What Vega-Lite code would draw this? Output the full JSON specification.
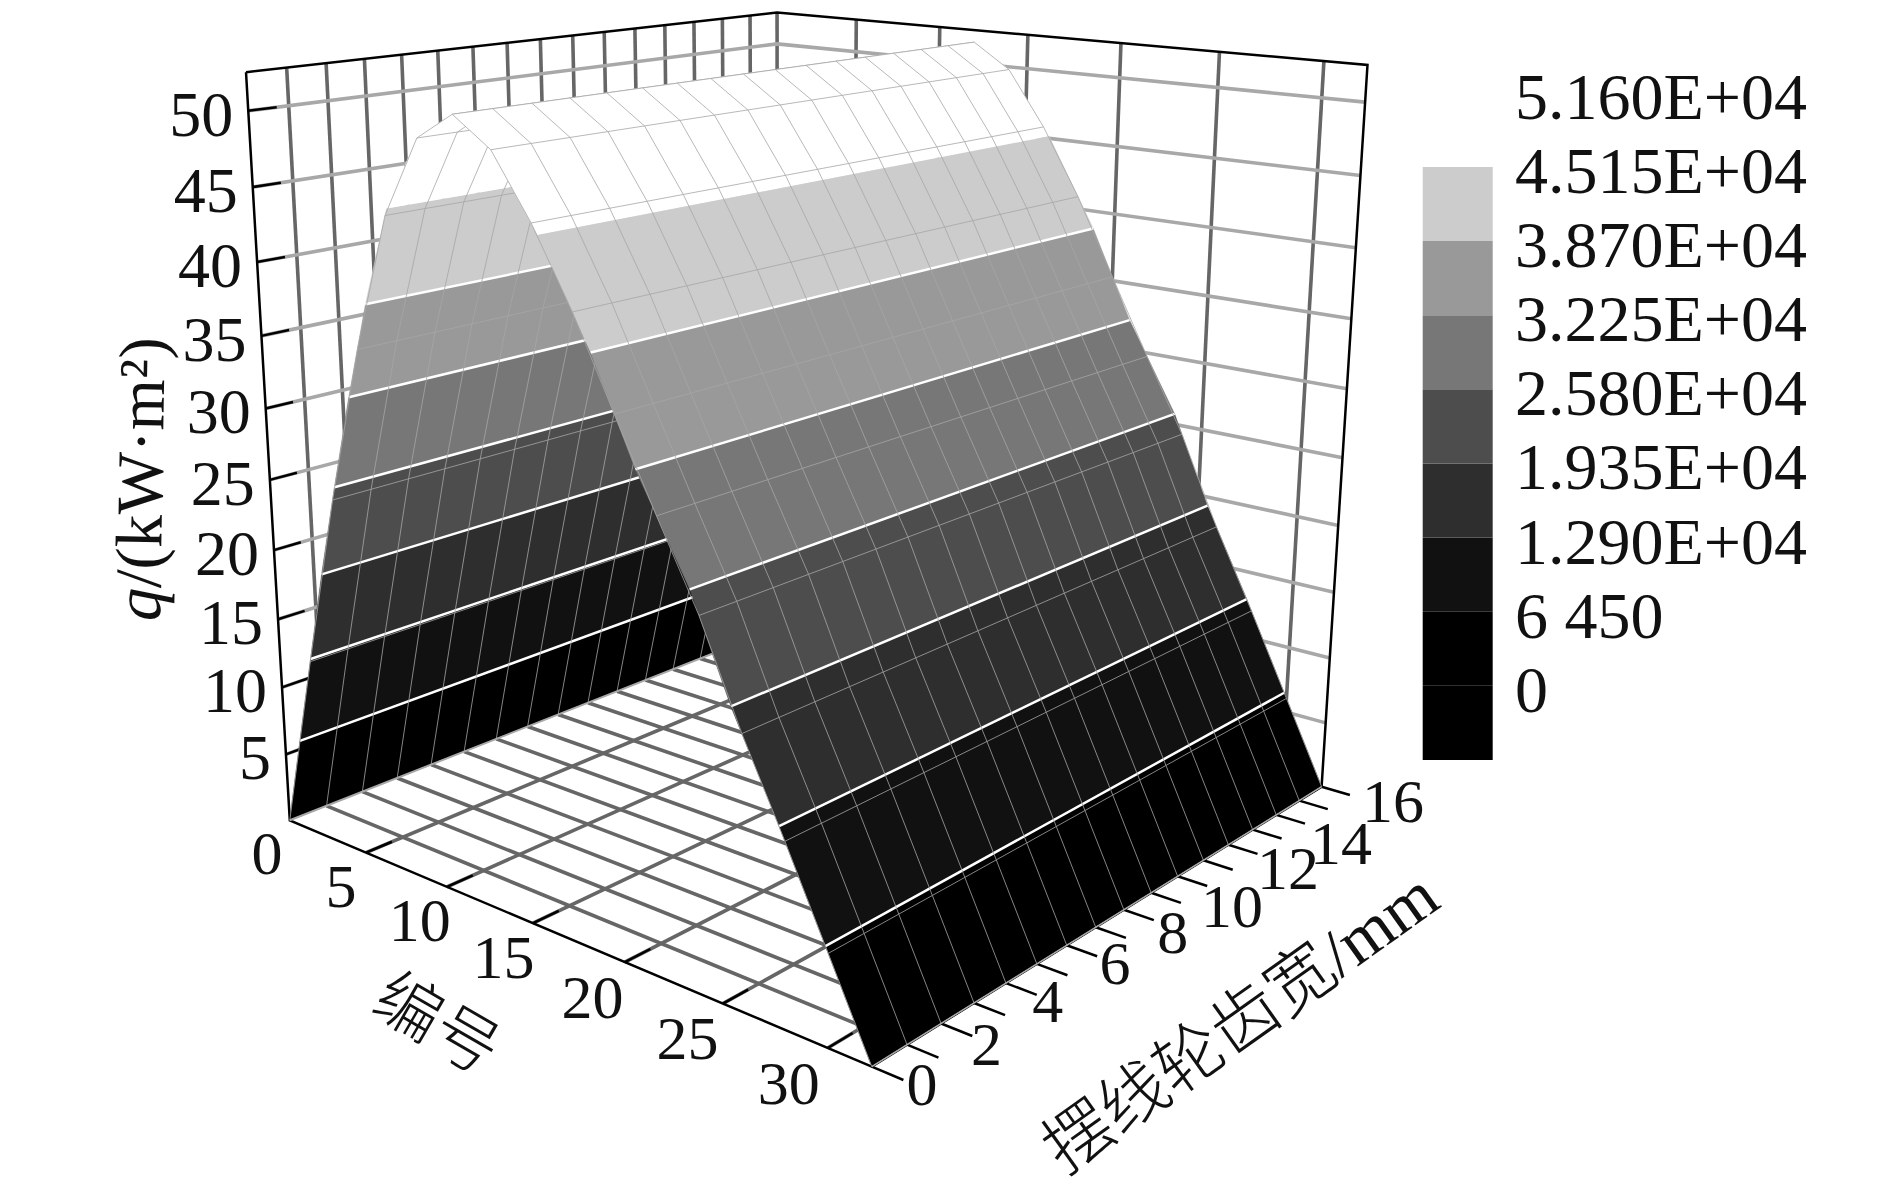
{"$schema":"https://vega.github.io/schema/vega-lite/v6.json","width":1890,"height":1198,"padding":0,"autosize":{"type":"none"},"background":"white","config":{"view":{"stroke":null}},
"datasets":{
"profile":[{"x":0,"z":0},{"x":2,"z":12.7},{"x":4,"z":24.87},{"x":6,"z":35.6},{"x":8,"z":44.68},{"x":10,"z":49.85},{"x":12,"z":51.6},{"x":14,"z":49.8},{"x":16,"z":45.8},{"x":18,"z":40.92},{"x":20,"z":35.29},{"x":22,"z":29.74},{"x":24,"z":24.36},{"x":26,"z":17.88},{"x":28,"z":12.09},{"x":30,"z":6.06},{"x":32,"z":0}],
"legend":[{"lo":-6450,"hi":0,"level":0},{"lo":0,"hi":6450,"level":0},{"lo":6450,"hi":12900,"level":1},{"lo":12900,"hi":19350,"level":2},{"lo":19350,"hi":25800,"level":3},{"lo":25800,"hi":32250,"level":4},{"lo":32250,"hi":38700,"level":5},{"lo":38700,"hi":45150,"level":6}],
"legendText":[{"q":51600,"t":"5.160E+04"},{"q":45150,"t":"4.515E+04"},{"q":38700,"t":"3.870E+04"},{"q":32250,"t":"3.225E+04"},{"q":25800,"t":"2.580E+04"},{"q":19350,"t":"1.935E+04"},{"q":12900,"t":"1.290E+04"},{"q":6450,"t":"6 450"},{"q":0,"t":"0"}]
},
"data":{"values":[
{"k":"g","id":"a1","xs":[0,32],"ys":[1,1],"zs":[0,0]},{"k":"g","id":"a2","xs":[0,32],"ys":[2,2],"zs":[0,0]},{"k":"g","id":"a3","xs":[0,32],"ys":[3,3],"zs":[0,0]},{"k":"g","id":"a4","xs":[0,32],"ys":[4,4],"zs":[0,0]},{"k":"g","id":"a5","xs":[0,32],"ys":[5,5],"zs":[0,0]},{"k":"g","id":"a6","xs":[0,32],"ys":[6,6],"zs":[0,0]},{"k":"g","id":"a7","xs":[0,32],"ys":[7,7],"zs":[0,0]},{"k":"g","id":"a8","xs":[0,32],"ys":[8,8],"zs":[0,0]},{"k":"g","id":"a9","xs":[0,32],"ys":[9,9],"zs":[0,0]},{"k":"g","id":"a10","xs":[0,32],"ys":[10,10],"zs":[0,0]},{"k":"g","id":"a11","xs":[0,32],"ys":[11,11],"zs":[0,0]},{"k":"g","id":"a12","xs":[0,32],"ys":[12,12],"zs":[0,0]},{"k":"g","id":"a13","xs":[0,32],"ys":[13,13],"zs":[0,0]},{"k":"g","id":"a14","xs":[0,32],"ys":[14,14],"zs":[0,0]},{"k":"g","id":"a15","xs":[0,32],"ys":[15,15],"zs":[0,0]},
{"k":"g","id":"b5","xs":[5,5],"ys":[0,16],"zs":[0,0]},{"k":"g","id":"b10","xs":[10,10],"ys":[0,16],"zs":[0,0]},{"k":"g","id":"b15","xs":[15,15],"ys":[0,16],"zs":[0,0]},{"k":"g","id":"b20","xs":[20,20],"ys":[0,16],"zs":[0,0]},{"k":"g","id":"b25","xs":[25,25],"ys":[0,16],"zs":[0,0]},{"k":"g","id":"b30","xs":[30,30],"ys":[0,16],"zs":[0,0]},
{"k":"g","id":"c1","xs":[0,0],"ys":[1,1],"zs":[0,52.5]},{"k":"g","id":"c2","xs":[0,0],"ys":[2,2],"zs":[0,52.5]},{"k":"g","id":"c3","xs":[0,0],"ys":[3,3],"zs":[0,52.5]},{"k":"g","id":"c4","xs":[0,0],"ys":[4,4],"zs":[0,52.5]},{"k":"g","id":"c5","xs":[0,0],"ys":[5,5],"zs":[0,52.5]},{"k":"g","id":"c6","xs":[0,0],"ys":[6,6],"zs":[0,52.5]},{"k":"g","id":"c7","xs":[0,0],"ys":[7,7],"zs":[0,52.5]},{"k":"g","id":"c8","xs":[0,0],"ys":[8,8],"zs":[0,52.5]},{"k":"g","id":"c9","xs":[0,0],"ys":[9,9],"zs":[0,52.5]},{"k":"g","id":"c10","xs":[0,0],"ys":[10,10],"zs":[0,52.5]},{"k":"g","id":"c11","xs":[0,0],"ys":[11,11],"zs":[0,52.5]},{"k":"g","id":"c12","xs":[0,0],"ys":[12,12],"zs":[0,52.5]},{"k":"g","id":"c13","xs":[0,0],"ys":[13,13],"zs":[0,52.5]},{"k":"g","id":"c14","xs":[0,0],"ys":[14,14],"zs":[0,52.5]},{"k":"g","id":"c15","xs":[0,0],"ys":[15,15],"zs":[0,52.5]},{"k":"g","id":"c16","xs":[0,0],"ys":[16,16],"zs":[0,52.5]},
{"k":"g","id":"d5","xs":[5,5],"ys":[16,16],"zs":[0,52.5]},{"k":"g","id":"d10","xs":[10,10],"ys":[16,16],"zs":[0,52.5]},{"k":"g","id":"d15","xs":[15,15],"ys":[16,16],"zs":[0,52.5]},{"k":"g","id":"d20","xs":[20,20],"ys":[16,16],"zs":[0,52.5]},{"k":"g","id":"d25","xs":[25,25],"ys":[16,16],"zs":[0,52.5]},{"k":"g","id":"d30","xs":[30,30],"ys":[16,16],"zs":[0,52.5]},
{"k":"z","id":"z5","xs":[0,0,32],"ys":[0,16,16],"zs":[5,5,5]},{"k":"z","id":"z10","xs":[0,0,32],"ys":[0,16,16],"zs":[10,10,10]},{"k":"z","id":"z15","xs":[0,0,32],"ys":[0,16,16],"zs":[15,15,15]},{"k":"z","id":"z20","xs":[0,0,32],"ys":[0,16,16],"zs":[20,20,20]},{"k":"z","id":"z25","xs":[0,0,32],"ys":[0,16,16],"zs":[25,25,25]},{"k":"z","id":"z30","xs":[0,0,32],"ys":[0,16,16],"zs":[30,30,30]},{"k":"z","id":"z35","xs":[0,0,32],"ys":[0,16,16],"zs":[35,35,35]},{"k":"z","id":"z40","xs":[0,0,32],"ys":[0,16,16],"zs":[40,40,40]},{"k":"z","id":"z45","xs":[0,0,32],"ys":[0,16,16],"zs":[45,45,45]},{"k":"z","id":"z50","xs":[0,0,32],"ys":[0,16,16],"zs":[50,50,50]},
{"k":"b","id":"f1","xs":[0,0,32,32,32,0,0],"ys":[0,16,16,16,0,0,0],"zs":[52.5,52.5,52.5,0,0,0,52.5]},
{"k":"b","id":"t5","xs":[0,0],"ys":[0,0.7],"zs":[5,5]},{"k":"b","id":"t10","xs":[0,0],"ys":[0,0.7],"zs":[10,10]},{"k":"b","id":"t15","xs":[0,0],"ys":[0,0.7],"zs":[15,15]},{"k":"b","id":"t20","xs":[0,0],"ys":[0,0.7],"zs":[20,20]},{"k":"b","id":"t25","xs":[0,0],"ys":[0,0.7],"zs":[25,25]},{"k":"b","id":"t30","xs":[0,0],"ys":[0,0.7],"zs":[30,30]},{"k":"b","id":"t35","xs":[0,0],"ys":[0,0.7],"zs":[35,35]},{"k":"b","id":"t40","xs":[0,0],"ys":[0,0.7],"zs":[40,40]},{"k":"b","id":"t45","xs":[0,0],"ys":[0,0.7],"zs":[45,45]},{"k":"b","id":"t50","xs":[0,0],"ys":[0,0.7],"zs":[50,50]},
{"k":"b","id":"u5","xs":[5,5],"ys":[0,0.7],"zs":[0,0]},{"k":"b","id":"u10","xs":[10,10],"ys":[0,0.7],"zs":[0,0]},{"k":"b","id":"u15","xs":[15,15],"ys":[0,0.7],"zs":[0,0]},{"k":"b","id":"u20","xs":[20,20],"ys":[0,0.7],"zs":[0,0]},{"k":"b","id":"u25","xs":[25,25],"ys":[0,0.7],"zs":[0,0]},{"k":"b","id":"u30","xs":[30,30],"ys":[0,0.7],"zs":[0,0]},
{"k":"b","id":"v0","xs":[32,33.4],"ys":[0,0],"zs":[0,0]},{"k":"b","id":"v1","xs":[32,33.4],"ys":[1,1],"zs":[0,0]},{"k":"b","id":"v2","xs":[32,33.4],"ys":[2,2],"zs":[0,0]},{"k":"b","id":"v3","xs":[32,33.4],"ys":[3,3],"zs":[0,0]},{"k":"b","id":"v4","xs":[32,33.4],"ys":[4,4],"zs":[0,0]},{"k":"b","id":"v5","xs":[32,33.4],"ys":[5,5],"zs":[0,0]},{"k":"b","id":"v6","xs":[32,33.4],"ys":[6,6],"zs":[0,0]},{"k":"b","id":"v7","xs":[32,33.4],"ys":[7,7],"zs":[0,0]},{"k":"b","id":"v8","xs":[32,33.4],"ys":[8,8],"zs":[0,0]},{"k":"b","id":"v9","xs":[32,33.4],"ys":[9,9],"zs":[0,0]},{"k":"b","id":"v10","xs":[32,33.4],"ys":[10,10],"zs":[0,0]},{"k":"b","id":"v11","xs":[32,33.4],"ys":[11,11],"zs":[0,0]},{"k":"b","id":"v12","xs":[32,33.4],"ys":[12,12],"zs":[0,0]},{"k":"b","id":"v13","xs":[32,33.4],"ys":[13,13],"zs":[0,0]},{"k":"b","id":"v14","xs":[32,33.4],"ys":[14,14],"zs":[0,0]},{"k":"b","id":"v15","xs":[32,33.4],"ys":[15,15],"zs":[0,0]},{"k":"b","id":"v16","xs":[32,33.4],"ys":[16,16],"zs":[0,0]},
{"k":"sL","id":"L0","level":0,"xs":[0,1.01,1.01,0],"ys":[0,0,16,16],"zs":[0,6.45,6.45,0]},
{"k":"sL","id":"L1","level":1,"xs":[1.01,2.03,2.03,1.01],"ys":[0,0,16,16],"zs":[6.45,12.9,12.9,6.45]},
{"k":"sL","id":"L2","level":2,"xs":[2.03,3.05,3.05,2.03],"ys":[0,0,16,16],"zs":[12.9,19.35,19.35,12.9]},
{"k":"sL","id":"L3","level":3,"xs":[3.05,4.16,4.16,3.05],"ys":[0,0,16,16],"zs":[19.35,25.8,25.8,19.35]},
{"k":"sL","id":"L4","level":4,"xs":[4.16,5.33,5.33,4.16],"ys":[0,0,16,16],"zs":[25.8,32.25,32.25,25.8]},
{"k":"sL","id":"L5","level":5,"xs":[5.33,6.61,6.61,5.33],"ys":[0,0,16,16],"zs":[32.25,38.7,38.7,32.25]},
{"k":"sL","id":"L6","level":6,"xs":[6.61,8.11,8.11,6.61],"ys":[0,0,16,16],"zs":[38.7,45.15,45.15,38.7]},
{"k":"sL","id":"L7","level":7,"xs":[8.11,10,12,12,10,8.11],"ys":[0,0,0,16,16,16],"zs":[45.15,49.85,51.6,51.6,49.85,45.15]},
{"k":"wL","id":"wL1","xs":[1.01,1.01],"ys":[0,16],"zs":[6.45,6.45]},{"k":"wL","id":"wL2","xs":[2.03,2.03],"ys":[0,16],"zs":[12.9,12.9]},{"k":"wL","id":"wL3","xs":[3.05,3.05],"ys":[0,16],"zs":[19.35,19.35]},{"k":"wL","id":"wL4","xs":[4.16,4.16],"ys":[0,16],"zs":[25.8,25.8]},{"k":"wL","id":"wL5","xs":[5.33,5.33],"ys":[0,16],"zs":[32.25,32.25]},{"k":"wL","id":"wL6","xs":[6.61,6.61],"ys":[0,16],"zs":[38.7,38.7]},
{"k":"e0","id":"e2","xs":[0,0],"ys":[0,16],"zs":[0,0]},
{"k":"sR","id":"R7","level":7,"xs":[12,14,16.32,16.32,14,12],"ys":[0,0,0,16,16,16],"zs":[51.6,49.8,45.15,45.15,49.8,51.6]},
{"k":"sR","id":"R6","level":6,"xs":[16.32,18.88,18.88,16.32],"ys":[0,0,16,16],"zs":[45.15,38.7,38.7,45.15]},
{"k":"sR","id":"R5","level":5,"xs":[18.88,21,21,18.88],"ys":[0,0,16,16],"zs":[38.7,32.25,32.25,38.7]},
{"k":"sR","id":"R4","level":4,"xs":[21,23.57,23.57,21],"ys":[0,0,16,16],"zs":[32.25,25.8,25.8,32.25]},
{"k":"sR","id":"R3","level":3,"xs":[23.57,25.49,25.49,23.57],"ys":[0,0,16,16],"zs":[25.8,19.35,19.35,25.8]},
{"k":"sR","id":"R2","level":2,"xs":[25.49,27.73,27.73,25.49],"ys":[0,0,16,16],"zs":[19.35,12.9,12.9,19.35]},
{"k":"sR","id":"R1","level":1,"xs":[27.73,29.87,29.87,27.73],"ys":[0,0,16,16],"zs":[12.9,6.45,6.45,12.9]},
{"k":"sR","id":"R0","level":0,"xs":[29.87,32,32,29.87],"ys":[0,0,16,16],"zs":[6.45,0,0,6.45]},
{"k":"wR","id":"wR1","xs":[29.87,29.87],"ys":[0,16],"zs":[6.45,6.45]},{"k":"wR","id":"wR2","xs":[27.73,27.73],"ys":[0,16],"zs":[12.9,12.9]},{"k":"wR","id":"wR3","xs":[25.49,25.49],"ys":[0,16],"zs":[19.35,19.35]},{"k":"wR","id":"wR4","xs":[23.57,23.57],"ys":[0,16],"zs":[25.8,25.8]},{"k":"wR","id":"wR5","xs":[21,21],"ys":[0,16],"zs":[32.25,32.25]},{"k":"wR","id":"wR6","xs":[18.88,18.88],"ys":[0,16],"zs":[38.7,38.7]},
{"k":"e","id":"e1","xs":[32,32],"ys":[0,16],"zs":[0,0]},
{"k":"tz","id":"l5","t":"5","xs":[0],"ys":[0],"zs":[5]},{"k":"tz","id":"l10","t":"10","xs":[0],"ys":[0],"zs":[10]},{"k":"tz","id":"l15","t":"15","xs":[0],"ys":[0],"zs":[15]},{"k":"tz","id":"l20","t":"20","xs":[0],"ys":[0],"zs":[20]},{"k":"tz","id":"l25","t":"25","xs":[0],"ys":[0],"zs":[25]},{"k":"tz","id":"l30","t":"30","xs":[0],"ys":[0],"zs":[30]},{"k":"tz","id":"l35","t":"35","xs":[0],"ys":[0],"zs":[35]},{"k":"tz","id":"l40","t":"40","xs":[0],"ys":[0],"zs":[40]},{"k":"tz","id":"l45","t":"45","xs":[0],"ys":[0],"zs":[45]},{"k":"tz","id":"l50","t":"50","xs":[0],"ys":[0],"zs":[50]},
{"k":"tx","id":"m0","t":"0","xs":[2.06],"ys":[-1.41],"zs":[0]},{"k":"tx","id":"m5","t":"5","xs":[6.81],"ys":[-1.41],"zs":[0]},{"k":"tx","id":"m10","t":"10","xs":[11.57],"ys":[-1.41],"zs":[0]},{"k":"tx","id":"m15","t":"15","xs":[16.33],"ys":[-1.41],"zs":[0]},{"k":"tx","id":"m20","t":"20","xs":[21.09],"ys":[-1.41],"zs":[0]},{"k":"tx","id":"m25","t":"25","xs":[25.85],"ys":[-1.41],"zs":[0]},{"k":"tx","id":"m30","t":"30","xs":[30.6],"ys":[-1.41],"zs":[0]},
{"k":"tx","id":"n0","t":"0","xs":[34.12],"ys":[0.06],"zs":[0]},{"k":"tx","id":"n2","t":"2","xs":[34.2],"ys":[1.88],"zs":[0]},{"k":"tx","id":"n4","t":"4","xs":[34.06],"ys":[3.88],"zs":[0]},{"k":"tx","id":"n6","t":"6","xs":[34.31],"ys":[5.92],"zs":[0]},{"k":"tx","id":"n8","t":"8","xs":[34.61],"ys":[7.73],"zs":[0]},{"k":"tx","id":"n10","t":"10","xs":[35.2],"ys":[9.46],"zs":[0]},{"k":"tx","id":"n12","t":"12","xs":[35.15],"ys":[11.73],"zs":[0]},{"k":"tx","id":"n14","t":"14","xs":[35.61],"ys":[13.55],"zs":[0]},{"k":"tx","id":"n16","t":"16","xs":[35.26],"ys":[16.22],"zs":[0]},
{"k":"q1","id":"q1","t":"q","xs":[0],"ys":[0],"zs":[15]},{"k":"q2","id":"q2","t":"/(kW·m²)","xs":[0],"ys":[0],"zs":[15]},
{"k":"t1","id":"t1","t":"编号","xs":[18.25],"ys":[-3.96],"zs":[0]},{"k":"t2","id":"t2","t":"摆线轮齿宽/mm","xs":[40.34],"ys":[5.49],"zs":[0]}
]},
"transform":[{"flatten":["xs","ys","zs"],"as":["x","y","z"]},{"window":[{"op":"row_number","as":"ord"}],"groupby":["id"]},
{"calculate":"1-0.0058188*datum.x+0.0139738*datum.y-0.0015524*datum.z","as":"d"},
{"calculate":"(13.1147*datum.x+41.3456*datum.y+289.8-1.2162*datum.z)/datum.d","as":"px"},
{"calculate":"(1.4906*datum.x-3.2438*datum.y+820.3-14.3619*datum.z)/datum.d","as":"py"}],
"encoding":{"x":{"field":"px","type":"quantitative","scale":{"domain":[0,1890],"range":[0,1890],"nice":false,"zero":false},"axis":null},"y":{"field":"py","type":"quantitative","scale":{"domain":[0,1198],"range":[0,1198],"nice":false,"zero":false},"axis":null}},
"layer":[
{"transform":[{"filter":"datum.k=='g'"}],"mark":{"type":"line","stroke":"#666666","strokeWidth":3.6},"encoding":{"detail":{"field":"id"},"order":{"field":"ord"}}},
{"transform":[{"filter":"datum.k=='z'"}],"mark":{"type":"line","stroke":"#a8a8a8","strokeWidth":3.6},"encoding":{"detail":{"field":"id"},"order":{"field":"ord"}}},
{"transform":[{"filter":"datum.k=='b'"}],"mark":{"type":"line","stroke":"#000000","strokeWidth":2.5},"encoding":{"detail":{"field":"id"},"order":{"field":"ord"}}},
{"transform":[{"filter":"datum.k=='sL'"}],"mark":{"type":"line","strokeWidth":0.5},"encoding":{"detail":{"field":"id"},"order":{"field":"ord"},"fill":{"field":"level","type":"ordinal","scale":{"domain":[0,1,2,3,4,5,6,7],"range":["#000000","#111111","#2e2e2e","#4d4d4d","#777777","#999999","#cccccc","#ffffff"]},"legend":null},"stroke":{"field":"level","type":"ordinal","scale":{"domain":[0,1,2,3,4,5,6,7],"range":["#000000","#111111","#2e2e2e","#4d4d4d","#777777","#999999","#cccccc","#ffffff"]},"legend":null}}},
{"transform":[{"filter":"datum.k=='wL'"}],"mark":{"type":"line","stroke":"#ffffff","strokeWidth":2.5},"encoding":{"detail":{"field":"id"},"order":{"field":"ord"}}},
{"data":{"name":"profile"},"transform":[{"filter":"datum.x<=12"},{"calculate":"[0,1,2,3,4,5,6,7,8,9,10,11,12,13,14,15,16]","as":"ys"},{"flatten":["ys"],"as":["y"]},{"calculate":"1-0.0058188*datum.x+0.0139738*datum.y-0.0015524*datum.z","as":"d"},{"calculate":"(13.1147*datum.x+41.3456*datum.y+289.8-1.2162*datum.z)/datum.d","as":"px"},{"calculate":"(1.4906*datum.x-3.2438*datum.y+820.3-14.3619*datum.z)/datum.d","as":"py"}],"layer":[
{"mark":{"type":"line","stroke":"#a6a6a6","strokeWidth":0.8},"encoding":{"detail":{"field":"y"},"order":{"field":"x"}}},
{"mark":{"type":"line","stroke":"#a6a6a6","strokeWidth":0.8},"encoding":{"detail":{"field":"x"},"order":{"field":"y"}}}]},
{"transform":[{"filter":"datum.k=='e0'"}],"mark":{"type":"line","stroke":"#a8a8a8","strokeWidth":2},"encoding":{"detail":{"field":"id"},"order":{"field":"ord"}}},
{"transform":[{"filter":"datum.k=='sR'"}],"mark":{"type":"line","strokeWidth":0.5},"encoding":{"detail":{"field":"id"},"order":{"field":"ord"},"fill":{"field":"level","type":"ordinal","scale":{"domain":[0,1,2,3,4,5,6,7],"range":["#000000","#111111","#2e2e2e","#4d4d4d","#777777","#999999","#cccccc","#ffffff"]},"legend":null},"stroke":{"field":"level","type":"ordinal","scale":{"domain":[0,1,2,3,4,5,6,7],"range":["#000000","#111111","#2e2e2e","#4d4d4d","#777777","#999999","#cccccc","#ffffff"]},"legend":null}}},
{"transform":[{"filter":"datum.k=='wR'"}],"mark":{"type":"line","stroke":"#ffffff","strokeWidth":2.5},"encoding":{"detail":{"field":"id"},"order":{"field":"ord"}}},
{"data":{"name":"profile"},"transform":[{"filter":"datum.x>=12"},{"calculate":"[0,1,2,3,4,5,6,7,8,9,10,11,12,13,14,15,16]","as":"ys"},{"flatten":["ys"],"as":["y"]},{"calculate":"1-0.0058188*datum.x+0.0139738*datum.y-0.0015524*datum.z","as":"d"},{"calculate":"(13.1147*datum.x+41.3456*datum.y+289.8-1.2162*datum.z)/datum.d","as":"px"},{"calculate":"(1.4906*datum.x-3.2438*datum.y+820.3-14.3619*datum.z)/datum.d","as":"py"}],"layer":[
{"mark":{"type":"line","stroke":"#a6a6a6","strokeWidth":0.8},"encoding":{"detail":{"field":"y"},"order":{"field":"x"}}},
{"mark":{"type":"line","stroke":"#a6a6a6","strokeWidth":0.8},"encoding":{"detail":{"field":"x"},"order":{"field":"y"}}}]},
{"transform":[{"filter":"datum.k=='e'"}],"mark":{"type":"line","stroke":"#a8a8a8","strokeWidth":1.5},"encoding":{"detail":{"field":"id"},"order":{"field":"ord"}}},
{"transform":[{"filter":"datum.k=='tz'"}],"mark":{"type":"text","font":"Liberation Serif","fontSize":64,"align":"right","baseline":"middle","dx":-15,"dy":6,"color":"#111111"},"encoding":{"text":{"field":"t"}}},
{"transform":[{"filter":"datum.k=='tx'"}],"mark":{"type":"text","font":"Liberation Serif","fontSize":62,"align":"center","baseline":"middle","color":"#111111"},"encoding":{"text":{"field":"t"}}},
{"transform":[{"filter":"datum.k=='q1'"}],"mark":{"type":"text","font":"Liberation Serif","fontStyle":"italic","fontSize":66,"align":"left","baseline":"alphabetic","angle":271,"dx":-4,"dy":-118,"color":"#111111"},"encoding":{"text":{"field":"t"}}},
{"transform":[{"filter":"datum.k=='q2'"}],"mark":{"type":"text","font":"Liberation Serif","fontSize":66,"align":"left","baseline":"alphabetic","angle":271,"dx":29,"dy":-118,"color":"#111111"},"encoding":{"text":{"field":"t"}}},
{"transform":[{"filter":"datum.k=='t1'"}],"mark":{"type":"text","font":"Noto Sans CJK SC","fontSize":66,"fontWeight":300,"align":"center","baseline":"middle","angle":30,"color":"#111111"},"encoding":{"text":{"field":"t"}}},
{"transform":[{"filter":"datum.k=='t2'"}],"mark":{"type":"text","font":"Liberation Serif, Noto Sans CJK SC","fontSize":68,"fontWeight":300,"align":"center","baseline":"middle","angle":324.5,"color":"#111111"},"encoding":{"text":{"field":"t"}}},
{"data":{"name":"legend"},"transform":[{"calculate":"685.8-datum.lo*593/51600","as":"ly"},{"calculate":"685.8-datum.hi*593/51600","as":"ly2"}],"mark":{"type":"rect"},"encoding":{"x":{"value":1422.7},"x2":{"value":1492.7},"y":{"field":"ly","type":"quantitative","scale":{"domain":[0,1198],"range":[0,1198],"nice":false,"zero":false},"axis":null},"y2":{"field":"ly2"},"fill":{"field":"level","type":"ordinal","scale":{"domain":[0,1,2,3,4,5,6,7],"range":["#000000","#111111","#2e2e2e","#4d4d4d","#777777","#999999","#cccccc","#ffffff"]},"legend":null}}},
{"data":{"name":"legendText"},"transform":[{"calculate":"685.8-datum.q*593/51600","as":"ly"}],"mark":{"type":"text","font":"Liberation Serif","fontSize":66,"align":"left","baseline":"middle","dy":6,"color":"#111111"},"encoding":{"x":{"value":1515},"y":{"field":"ly","type":"quantitative","scale":{"domain":[0,1198],"range":[0,1198],"nice":false,"zero":false},"axis":null},"text":{"field":"t"}}}
]}
